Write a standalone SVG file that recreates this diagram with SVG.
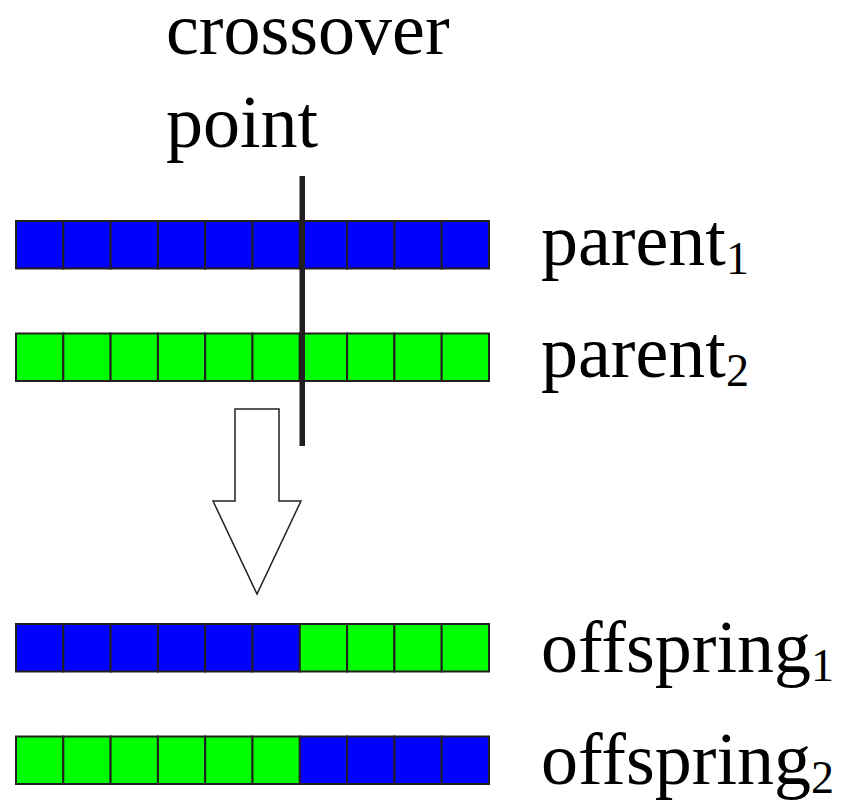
<svg xmlns="http://www.w3.org/2000/svg" width="846" height="802" viewBox="0 0 846 802">
  <style>
    .cell { stroke: #231f20; stroke-width: 2; }
    .b { fill: #0000ff; }
    .g { fill: #00ff00; }
    text { font-family: 'Liberation Serif', 'Times New Roman', Times, serif; font-size: 74px; fill: #000000; }
    .sub { font-size: 46px; }
  </style>
  <defs>
    <rect id="cellB" class="cell b" x="0" y="0" width="47.3" height="47.5"/>
    <rect id="cellG" class="cell g" x="0" y="0" width="47.3" height="47.5"/>
  </defs>

  <rect width="846" height="802" fill="#ffffff"/>

  <!-- parent 1: all blue -->
  <g id="parent1">
    <g transform="translate(16,221)">
      <use href="#cellB" x="0"/><use href="#cellB" x="47.3"/><use href="#cellB" x="94.6"/><use href="#cellB" x="141.9"/><use href="#cellB" x="189.2"/>
      <use href="#cellB" x="236.5"/><use href="#cellB" x="283.8"/><use href="#cellB" x="331.1"/><use href="#cellB" x="378.4"/><use href="#cellB" x="425.7"/>
    </g>
    <text font-family="Liberation Serif" x="541" y="265">parent<tspan class="sub" dy="9">1</tspan></text>
  </g>

  <!-- parent 2: all green -->
  <g id="parent2">
    <g transform="translate(16,333.5)">
      <use href="#cellG" x="0"/><use href="#cellG" x="47.3"/><use href="#cellG" x="94.6"/><use href="#cellG" x="141.9"/><use href="#cellG" x="189.2"/>
      <use href="#cellG" x="236.5"/><use href="#cellG" x="283.8"/><use href="#cellG" x="331.1"/><use href="#cellG" x="378.4"/><use href="#cellG" x="425.7"/>
    </g>
    <text font-family="Liberation Serif" x="541" y="377">parent<tspan class="sub" dy="9">2</tspan></text>
  </g>

  <!-- offspring 1: blue head, green tail -->
  <g id="offspring1">
    <g transform="translate(16,624)">
      <use href="#cellB" x="0"/><use href="#cellB" x="47.3"/><use href="#cellB" x="94.6"/><use href="#cellB" x="141.9"/><use href="#cellB" x="189.2"/>
      <use href="#cellB" x="236.5"/><use href="#cellG" x="283.8"/><use href="#cellG" x="331.1"/><use href="#cellG" x="378.4"/><use href="#cellG" x="425.7"/>
    </g>
    <text font-family="Liberation Serif" x="541" y="672">offspring<tspan class="sub" dy="9">1</tspan></text>
  </g>

  <!-- offspring 2: green head, blue tail -->
  <g id="offspring2">
    <g transform="translate(16,736.5)">
      <use href="#cellG" x="0"/><use href="#cellG" x="47.3"/><use href="#cellG" x="94.6"/><use href="#cellG" x="141.9"/><use href="#cellG" x="189.2"/>
      <use href="#cellG" x="236.5"/><use href="#cellB" x="283.8"/><use href="#cellB" x="331.1"/><use href="#cellB" x="378.4"/><use href="#cellB" x="425.7"/>
    </g>
    <text font-family="Liberation Serif" x="541" y="784">offspring<tspan class="sub" dy="9">2</tspan></text>
  </g>

  <!-- crossover point marker and label -->
  <g id="crossover">
    <text font-family="Liberation Serif" x="166" y="54">crossover</text>
    <text font-family="Liberation Serif" x="166" y="147">point</text>
    <rect x="299.5" y="176" width="5.5" height="270" fill="#231f20"/>
  </g>

  <!-- hollow arrow from parents to offspring -->
  <g id="connectors">
    <polygon points="235,409 279,409 279,501 301,501 257,594 213,501 235,501" fill="#ffffff" stroke="#231f20" stroke-width="1.5"/>
  </g>
</svg>
